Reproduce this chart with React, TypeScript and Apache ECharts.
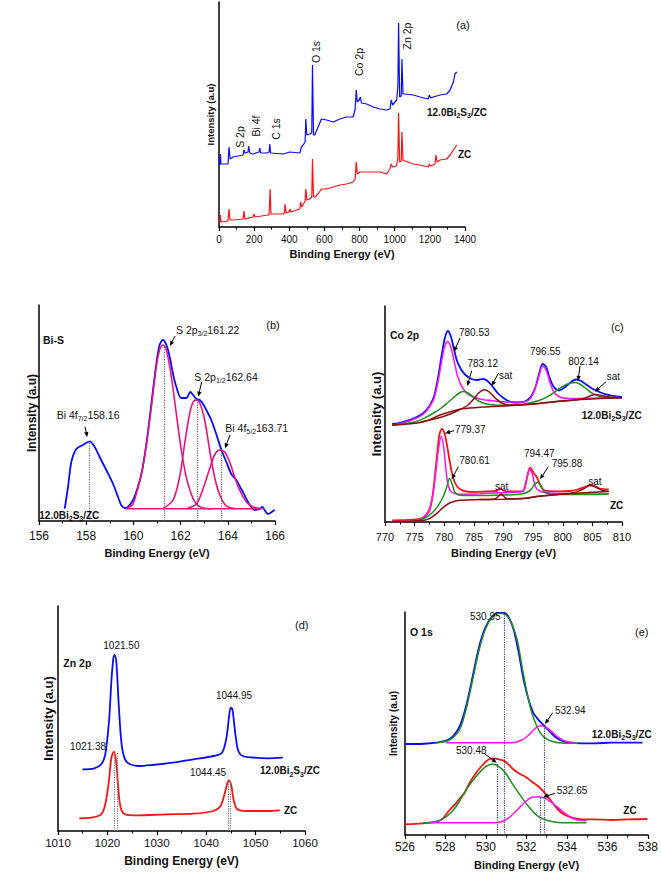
import React, { useEffect, useRef } from "react";
import * as echarts from "echarts";

const FONT = "'Liberation Sans', Arial, Helvetica, sans-serif";
const BLUE = "#0a0aff";
const RED = "#f51515";
const PINK_B = "#e6137e";
const MAG = "#ff14f0";
const GREEN = "#1f8f1f";
const MAROON = "#8b1010";

// ---------- (a) survey ----------
const aTicks = [0, 200, 400, 600, 800, 1000, 1200, 1400];
const aBlue = [
  [4, 62], [8, 73], [11, 63], [51, 63], [57, 80], [63, 68], [80, 70], [137, 72], [142, 77], [148, 74], [165, 75], [169, 81], [175, 74],
  [194, 73], [228, 75], [232, 79], [237, 74], [270, 74], [285, 75], [289, 83], [294, 74], [365, 73], [403, 75], [460, 74], [469, 80],
  [479, 82], [490, 85], [494, 108], [500, 92], [517, 93], [528, 94], [532, 162], [538, 92], [545, 92], [564, 100], [583, 108], [612, 107],
  [650, 105], [688, 108], [726, 110], [764, 110], [775, 118], [781, 137], [787, 125], [798, 127], [804, 130], [811, 124], [840, 123],
  [878, 120], [916, 118], [954, 117], [973, 118], [980, 127], [988, 122], [1011, 127], [1018, 140], [1022, 204], [1028, 130], [1037, 131],
  [1041, 168], [1047, 133], [1058, 133], [1106, 132], [1144, 130], [1191, 128], [1197, 132], [1205, 129], [1220, 130], [1258, 132],
  [1296, 133], [1315, 137], [1334, 145], [1343, 153], [1353, 155],
];
const aRed = [
  [4, 5], [8, 12], [11, 5], [51, 6], [57, 18], [63, 7], [80, 7], [137, 8], [142, 16], [148, 8], [194, 10], [199, 13], [205, 10],
  [279, 12], [285, 12], [291, 38], [296, 13], [365, 13], [372, 14], [376, 23], [382, 14], [399, 15], [405, 18], [410, 15], [460, 18],
  [465, 25], [471, 20], [490, 26], [494, 38], [500, 27], [517, 28], [528, 30], [532, 68], [538, 30], [545, 30], [564, 33], [583, 38],
  [612, 38], [650, 40], [688, 42], [726, 43], [764, 45], [775, 48], [781, 65], [787, 53], [802, 55], [840, 55], [878, 55], [916, 55],
  [954, 53], [973, 58], [980, 63], [988, 60], [1011, 61], [1018, 70], [1022, 114], [1028, 65], [1037, 66], [1041, 95], [1047, 67],
  [1058, 66], [1106, 63], [1144, 62], [1191, 60], [1197, 63], [1205, 61], [1229, 63], [1235, 72], [1241, 65], [1258, 67], [1296, 68],
  [1315, 72], [1334, 77], [1353, 82],
];

// ---------- (b) Bi-S ----------
const bTicks = [156, 158, 160, 162, 164, 166];
const bBlue = [
  [157.09, 12.3], [157.23, 34], [157.37, 59], [157.58, 72], [157.86, 76], [158.15, 79.7], [158.36, 74], [158.57, 64], [158.85, 51],
  [159.14, 37], [159.35, 24], [159.49, 15.7], [159.63, 13], [159.77, 14], [159.98, 20.7], [160.12, 29], [160.34, 47], [160.55, 77],
  [160.76, 117], [160.97, 157], [161.11, 176], [161.25, 181], [161.4, 176], [161.54, 164], [161.68, 147], [161.82, 134], [162.03, 123],
  [162.24, 123], [162.41, 129], [162.53, 126], [162.67, 122], [162.81, 121], [162.95, 117], [163.09, 111], [163.3, 101], [163.51, 87],
  [163.73, 71], [163.94, 59], [164.15, 47], [164.36, 41], [164.57, 32], [164.79, 22], [164.93, 16], [165.14, 11], [165.35, 12],
  [165.46, 14], [165.56, 11], [165.7, 7], [165.8, 8], [165.92, 10], [165.99, 11],
];
const bS32 = [
  [159.7, 12.3], [159.98, 17], [160.12, 27], [160.34, 47], [160.55, 76], [160.76, 114], [160.97, 154], [161.11, 171], [161.25, 176],
  [161.4, 171], [161.61, 144], [161.82, 107], [162.03, 71], [162.24, 44], [162.45, 27], [162.67, 17], [162.95, 13], [163.37, 12.3],
];
const bS12 = [
  [161.25, 12.3], [161.68, 21], [161.96, 44], [162.17, 77], [162.38, 107], [162.53, 119], [162.67, 121], [162.81, 118], [163.02, 101],
  [163.23, 71], [163.44, 44], [163.66, 26], [163.94, 15], [164.36, 12.3],
];
const bBi52 = [
  [162.24, 12.3], [162.67, 17], [162.95, 32], [163.23, 52], [163.44, 66], [163.66, 71], [163.87, 69], [164.08, 59], [164.29, 44],
  [164.5, 31], [164.79, 19], [165.07, 14], [165.42, 12.3],
];
const bBase = [[159.67, 12.3], [165.42, 12.3]];
const bDotX = [158.12, 161.29, 162.69, 163.72];
const bDotTop = [79, 176, 121, 71];

// ---------- (c) Co 2p ----------
const cTicks = [770, 775, 780, 785, 790, 795, 800, 805, 810];
const cBlue = [
  [771.2, 98], [773, 100], [775, 104], [776.5, 109], [777.5, 116], [778.3, 126], [779, 146], [779.6, 168], [780.1, 184], [780.6, 191],
  [781.1, 186], [781.6, 174], [782.1, 162], [782.8, 153], [783.6, 147], [784.6, 143], [785.6, 142], [786.6, 143], [787.3, 141],
  [788.1, 136], [789, 129], [790, 124], [791.2, 120], [792.5, 119.5], [793.8, 121], [794.7, 126], [795.4, 135], [796, 148], [796.6, 158],
  [797.2, 155], [797.8, 144], [798.5, 135], [799.4, 131.5], [800.5, 135.5], [801.4, 140], [802.2, 142.5], [803.1, 141], [803.9, 137.7],
  [805, 133.3], [806.2, 130], [807.3, 127.7], [809, 125.7], [810, 125],
];
const cPinkU = [
  [771.2, 96.7], [773, 99], [775, 103], [776.5, 108], [777.5, 115], [778.3, 124], [779, 142], [779.6, 162], [780.1, 176], [780.6, 180.5],
  [781.1, 175], [781.7, 160], [782.3, 145], [783.1, 134], [784.2, 127], [786, 123], [788.5, 121], [791, 120], [793, 120], [794.3, 122],
  [795.2, 131], [796, 146], [796.6, 156], [797.2, 152], [797.8, 140], [798.5, 130], [799.5, 125], [801, 123.5], [803, 123.5],
  [806, 124], [810, 124.5],
];
const cGreenU = [
  [771.2, 97], [775, 100], [777, 105], [778.5, 110], [779.5, 114], [780.5, 119], [781.5, 124], [782.4, 128.5], [783.2, 130.5],
  [784, 129], [784.9, 125], [785.8, 121], [786.8, 118.5], [788.5, 117], [791, 116.7], [793, 117.5], [794.4, 119], [796.1, 121.7],
  [797.8, 126.7], [799.4, 133.3], [800.6, 137.5], [801.4, 139], [802.2, 139.5], [803, 137.5], [803.8, 134], [805.1, 128.3],
  [806.7, 125], [810, 124.3],
];
const cSatU = [
  [776, 100], [779, 104], [781, 108], [782.5, 112], [784, 117], [785, 123], [785.8, 129], [786.8, 132.3], [787.6, 130], [788.6, 124],
  [789.7, 119], [791, 116.9], [793, 117], [796, 118.5], [799, 120.5], [802, 122], [803.8, 124], [804.8, 126.5], [805.6, 127.5],
  [806.5, 126.5], [808, 124.8], [810, 124.3],
];
const cBgU = [
  [771.2, 96.7], [776.4, 100], [779.2, 106.7], [780.9, 110], [783.1, 113.3], [786.5, 115], [792.1, 116.7], [796.6, 119], [801.1, 121.7],
  [805.6, 123.3], [810, 124.3],
];
const cRed = [
  [771.2, 1.7], [774.7, 2.3], [776.4, 4.3], [777.5, 11.7], [778, 25], [778.4, 45], [778.8, 68], [779.2, 88], [779.65, 93.4], [780.07, 88],
  [780.46, 77], [780.8, 65], [781.2, 52], [781.75, 40], [782.6, 33], [784.3, 30], [787, 30.5], [788.8, 31], [789.5, 33.4], [790.2, 30.7],
  [792, 30.5], [793.3, 31], [793.8, 40], [794.1, 48], [794.5, 54.4], [795.1, 49], [795.6, 45], [796.1, 38.4], [796.9, 31.7],
  [799.5, 30.7], [801.1, 31], [802.5, 32.5], [803.9, 35.5], [804.7, 37], [805.4, 36], [806.2, 33.5], [807.75, 32.5],
];
const cPinkL = [
  [771.2, 0.5], [774.7, 1.2], [776.4, 4], [777.5, 13.4], [778.1, 28.4], [778.55, 48.4], [779, 72], [779.5, 85.7], [779.9, 75],
  [780.24, 55], [780.6, 38.4], [781.2, 30], [783.2, 27.7], [786, 28.3], [788.8, 29], [791, 29.5], [793.3, 31], [794, 45], [794.4, 53.4],
  [794.9, 46.7], [795.4, 35], [796.1, 31], [797.5, 29.3], [800, 28.5], [804, 28], [807.75, 28],
];
const cGreenL = [
  [774.5, 1], [776.4, 3], [777.5, 7], [778.1, 10], [778.9, 15.7], [779.8, 25], [780.35, 33.4], [780.9, 43.4], [781.4, 36.7],
  [781.75, 30], [782.6, 26.7], [785, 26.5], [790, 27], [793, 28], [794.4, 31], [795, 35.5], [795.4, 38.4], [795.8, 40], [796.4, 35],
  [796.9, 30], [798.3, 27.7], [801, 27.5], [804, 27.5], [807.75, 28],
];
const cSatL = [
  [786, 22.4], [788.5, 23], [789.2, 26], [789.6, 28], [790, 26], [790.6, 23.2], [793, 23.4], [796, 25.7], [799.5, 27.7], [802, 29.5],
  [803.5, 33], [804.6, 36.5], [805.5, 35], [806.5, 32], [807.75, 30.5],
];
const cBgL = [
  [771.2, 0.3], [776.4, 1.5], [777.5, 3.4], [778.7, 8.4], [779.8, 14.4], [780.9, 19], [782.6, 21.7], [786, 22.4], [790, 22.8],
  [793.3, 23.4], [796.1, 25.7], [799.5, 27.7], [803, 29], [807.75, 30.5],
];

// ---------- (d) Zn 2p ----------
const dTicks = [1010, 1020, 1030, 1040, 1050, 1060];
const dBlue = [
  [1014.95, 61.7], [1017.36, 62.7], [1018.74, 66.7], [1019.57, 76.7], [1020.33, 110], [1020.81, 150], [1021.22, 173.3], [1021.5, 176],
  [1021.84, 166.7], [1022.33, 123.3], [1022.88, 86.7], [1023.57, 71.7], [1024.6, 66.7], [1026.33, 65], [1029.1, 66], [1033.2, 68.3],
  [1037.4, 71.7], [1041.5, 75], [1043.2, 78.3], [1044.1, 93.3], [1044.6, 113.3], [1044.95, 123.3], [1045.3, 121.7], [1045.6, 110],
  [1046, 93.3], [1046.5, 80], [1047.4, 75], [1049.8, 73.3], [1052.5, 72.7], [1055.5, 73.3],
];
const dRed = [
  [1014.3, 12.7], [1016.7, 13.3], [1018.74, 16.7], [1019.57, 26.7], [1020.3, 50], [1020.8, 73], [1021.3, 79.3], [1021.8, 68],
  [1022.2, 43], [1022.7, 23], [1023.6, 16.7], [1026.3, 15.7], [1031.8, 16.7], [1037.4, 17.3], [1041.5, 20], [1042.9, 25],
  [1043.7, 36.7], [1044.3, 48.3], [1044.6, 50.7], [1045.1, 45], [1045.6, 30], [1046.3, 21.7], [1048.4, 20], [1052.5, 20], [1054.9, 20.7],
];
const dDotX = [1021.35, 1021.9, 1044.5, 1044.85];
const dDotTop = [79, 79, 50, 50];

// ---------- (e) O 1s ----------
const eTicks = [526, 528, 530, 532, 534, 536, 538];
const eBlue = [
  [526, 91], [526.57, 91], [527.22, 91.7], [527.55, 92.3], [528.04, 94.3], [528.36, 98.3], [528.69, 108.3], [529.01, 128.3],
  [529.34, 158.3], [529.66, 188.3], [529.99, 208.3], [530.32, 219], [530.64, 222], [530.89, 222], [531.13, 217.5], [531.37, 205],
  [531.62, 181.7], [531.86, 155], [532.11, 135], [532.35, 121.7], [532.6, 115], [532.84, 110], [533.08, 105], [533.41, 98.3],
  [533.74, 94.3], [534.06, 92.3], [534.71, 91.7], [535.36, 91.7], [536.18, 92.3], [536.99, 92.3], [537.73, 92.3],
];
const eGreenU = [
  [527.55, 92.3], [528.2, 95], [528.69, 105], [529.01, 125], [529.34, 155], [529.66, 185], [529.99, 206.7], [530.32, 218.3],
  [530.64, 221.7], [530.89, 221.3], [531.21, 214], [531.54, 195], [531.78, 168.3], [532.03, 141.7], [532.27, 121.7], [532.52, 108.3],
  [532.76, 100], [533.08, 95], [533.57, 92.3], [534.55, 91.7],
];
const eMagU = [
  [528.04, 92.3], [531.29, 92.3], [531.78, 95], [532.11, 100], [532.43, 106.7], [532.68, 109.3], [532.92, 108.3], [533.25, 103.3],
  [533.57, 97.7], [533.9, 94], [534.39, 92.3],
];
const eRed = [
  [526, 10.7], [526.9, 11.7], [527.55, 13.3], [527.87, 16.7], [528.2, 25], [528.52, 31.7], [528.77, 38.3], [528.93, 41.7],
  [529.18, 51.7], [529.5, 61.7], [529.83, 70], [530.15, 75.7], [530.4, 76.7], [530.64, 75.7], [530.97, 73.3], [531.29, 66.7],
  [531.62, 61.7], [531.94, 58.3], [532.27, 53.3], [532.6, 48.3], [532.92, 41.7], [533.25, 33.3], [533.57, 25], [533.9, 20],
  [534.39, 16.7], [534.88, 15.7], [535.36, 15.7], [536.18, 15], [536.99, 15.7], [537.97, 16],
];
const eGreenL = [
  [526.9, 12.3], [527.55, 13.3], [528.04, 18.3], [528.52, 28.3], [529.01, 45], [529.5, 58.3], [529.99, 68.3], [530.32, 71],
  [530.64, 68.3], [530.97, 61.7], [531.29, 51.7], [531.62, 41.7], [532.11, 28.3], [532.6, 18.3], [533.08, 14.3], [533.74, 12.3],
  [534.96, 12.3],
];
const eMagL = [
  [527.22, 12.3], [530.48, 12.3], [530.97, 15], [531.46, 23.3], [531.94, 33.3], [532.27, 37.7], [532.6, 38.3], [532.92, 36.7],
  [533.41, 30], [533.9, 21.7], [534.39, 15.7], [534.96, 14.3],
];
const eDotX = [530.55, 530.92, 532.68, 532.88];
const eDotTop = [71, 222, 38, 109];

// ---------- layout ----------
const GRIDS = [
  { left: 219, top: 2, width: 246, height: 225 },
  { left: 39, top: 305, width: 236, height: 216 },
  { left: 385, top: 306, width: 237, height: 216 },
  { left: 58, top: 606, width: 247, height: 225 },
  { left: 405, top: 612, width: 246, height: 223 },
];
const YMAX = [225, 216, 216, 225, 223];

function xAx(i, ticks, labelSize, labelMargin, nameSize, nameGap) {
  return {
    gridIndex: i, type: "value",
    min: ticks[0], max: ticks[ticks.length - 1], interval: ticks[1] - ticks[0],
    axisLine: { show: true, onZero: false, lineStyle: { color: "#000", width: 1.5 } },
    axisTick: { show: true, inside: false, length: 4, lineStyle: { color: "#000", width: 1.2 } },
    minorTick: { show: true, splitNumber: 2, length: 2.5, lineStyle: { color: "#000", width: 1 } },
    axisLabel: { color: "#111", fontSize: labelSize, fontFamily: FONT, margin: labelMargin, formatter: (v) => String(v) },
    splitLine: { show: false },
    name: "Binding Energy (eV)", nameLocation: "middle", nameGap,
    nameTextStyle: { color: "#111", fontWeight: "bold", fontSize: nameSize, fontFamily: FONT },
  };
}
function yAx(i, nameSize, nameGap) {
  return {
    gridIndex: i, type: "value", min: 0, max: YMAX[i],
    axisLine: { show: true, onZero: false, lineStyle: { color: "#000", width: 1.5 } },
    axisTick: { show: false }, axisLabel: { show: false }, splitLine: { show: false },
    name: "Intensity (a.u)", nameLocation: "middle", nameGap, nameRotate: 90,
    nameTextStyle: { color: "#111", fontWeight: "bold", fontSize: nameSize, fontFamily: FONT },
  };
}
function ln(i, data, color, width, smooth, extra = {}) {
  return {
    type: "line", xAxisIndex: i, yAxisIndex: i, data, symbol: "none", showSymbol: false,
    smooth, lineStyle: { color, width }, itemStyle: { color }, silent: true, ...extra,
  };
}
function dots(xs, tops, color) {
  return {
    silent: true, symbol: ["none", "none"], label: { show: false },
    lineStyle: { type: "dotted", color, width: 1.2 },
    data: xs.map((x, k) => [{ coord: [x, 0] }, { coord: [x, tops[k]] }]),
  };
}

function rich(size, bold) {
  return {
    s: { fontSize: Math.round(size * 0.68), fontFamily: FONT, fontWeight: bold ? "bold" : "normal", fill: "#111", verticalAlign: "bottom", lineHeight: 8 },
  };
}
function txt(x, y, text, o: any = {}) {
  const size = o.size || 10.5;
  const align = o.align || "left";
  return {
    type: "text", x, y, rotation: o.rot || 0, silent: true, z: 100,
    style: {
      text, fill: "#111", fontSize: size, fontFamily: FONT, fontWeight: o.bold ? "bold" : "normal",
      align, verticalAlign: "middle", textAlign: align, textVerticalAlign: "middle", lineHeight: 14,
      rich: rich(size, o.bold),
    },
  };
}
function arrow(x1, y1, x2, y2) {
  const a = Math.atan2(y2 - y1, x2 - x1);
  const L = 5, W = 2.2;
  const bx = x2 - L * Math.cos(a), by = y2 - L * Math.sin(a);
  const px = -Math.sin(a) * W, py = Math.cos(a) * W;
  return [
    { type: "line", silent: true, z: 100, shape: { x1, y1, x2: bx, y2: by }, style: { stroke: "#000", lineWidth: 1 } },
    { type: "polygon", silent: true, z: 100, shape: { points: [[x2, y2], [bx + px, by + py], [bx - px, by - py]] }, style: { fill: "#000" } },
  ];
}

const SAMPLE = "12.0Bi{s|2}S{s|3}/ZC";

function buildOption() {
  const graphic: any[] = [
    // (a)
    txt(463, 25, "(a)", { size: 11, align: "center" }),
    txt(427, 112, SAMPLE, { size: 10, bold: true }),
    txt(458, 154, "ZC", { size: 10, bold: true }),
    txt(239.7, 137, "S 2p", { size: 10.5, align: "center", rot: Math.PI / 2 }),
    txt(256.3, 126, "Bi 4f", { size: 10.5, align: "center", rot: Math.PI / 2 }),
    txt(275.7, 129, "C 1s", { size: 10.5, align: "center", rot: Math.PI / 2 }),
    txt(316, 52, "O 1s", { size: 10.5, align: "center", rot: Math.PI / 2 }),
    txt(358.7, 62, "Co 2p", { size: 10.5, align: "center", rot: Math.PI / 2 }),
    txt(406.7, 36, "Zn 2p", { size: 10.5, align: "center", rot: Math.PI / 2 }),
    // (b)
    txt(273, 325, "(b)", { size: 11, align: "center" }),
    txt(43, 340, "Bi-S", { size: 10.5, bold: true }),
    txt(56.7, 415, "Bi 4f{s|7/2}158.16", { size: 10.5 }),
    ...arrow(85, 426.7, 87.3, 437),
    txt(176, 330, "S 2p{s|3/2}161.22", { size: 10.5 }),
    ...arrow(175, 336, 170, 346),
    txt(194.3, 376.7, "S 2p{s|1/2}162.64", { size: 10.5 }),
    ...arrow(201.7, 381.7, 198.3, 396.7),
    txt(225.3, 428.3, "Bi 4f{s|5/2}163.71", { size: 10.5 }),
    ...arrow(230, 435, 225, 448.3),
    txt(39.3, 515, SAMPLE, { size: 10, bold: true }),
    // (c)
    txt(617.3, 327, "(c)", { size: 11, align: "center" }),
    txt(390, 335, "Co 2p", { size: 10.5, bold: true }),
    txt(459, 332, "780.53", { size: 10 }),
    ...arrow(460, 338, 454, 351.7),
    txt(467.5, 363, "783.12", { size: 10 }),
    ...arrow(471.7, 370.7, 467.3, 386),
    txt(499, 375, "sat", { size: 10 }),
    ...arrow(498.3, 373.3, 491.7, 386),
    txt(530, 351.7, "796.55", { size: 10 }),
    txt(568.3, 361.7, "802.14", { size: 10 }),
    ...arrow(580, 366, 578, 381),
    txt(606.7, 376.7, "sat", { size: 10 }),
    ...arrow(606, 381.7, 595, 391.7),
    txt(581.7, 415, SAMPLE, { size: 10, bold: true }),
    txt(455, 429.3, "779.37", { size: 10 }),
    ...arrow(454, 430.7, 445, 433.3),
    txt(459.3, 460.7, "780.61", { size: 10 }),
    ...arrow(458.3, 466.7, 451.7, 479.3),
    txt(495, 486, "sat", { size: 10 }),
    txt(524, 453.3, "794.47", { size: 10 }),
    txt(551.7, 463.3, "795.88", { size: 10 }),
    ...arrow(548.3, 466.7, 540, 479.3),
    txt(588.3, 481.7, "sat", { size: 10 }),
    txt(610, 505, "ZC", { size: 10, bold: true }),
    // (d)
    txt(301.7, 625, "(d)", { size: 11, align: "center" }),
    txt(63.3, 663.3, "Zn 2p", { size: 10.5, bold: true }),
    txt(103.3, 645, "1021.50", { size: 10 }),
    txt(216, 695, "1044.95", { size: 10 }),
    txt(70, 746, "1021.38", { size: 10 }),
    txt(190, 772.7, "1044.45", { size: 10 }),
    txt(260, 770.7, SAMPLE, { size: 10, bold: true }),
    txt(284, 810, "ZC", { size: 10, bold: true }),
    // (e)
    txt(641.7, 631.7, "(e)", { size: 11, align: "center" }),
    txt(410, 631.7, "O 1s", { size: 10.5, bold: true }),
    txt(470, 616, "530.95", { size: 10 }),
    txt(555, 710, "532.94", { size: 10 }),
    ...arrow(552.7, 712.7, 545, 724),
    txt(591.7, 734.3, SAMPLE, { size: 10, bold: true }),
    txt(456, 750.7, "530.48", { size: 10 }),
    ...arrow(484, 753.3, 496.7, 762.7),
    txt(556.7, 790.7, "532.65", { size: 10 }),
    ...arrow(555, 793.3, 543.3, 797.3),
    txt(623.3, 810, "ZC", { size: 10, bold: true }),
  ];

  return {
    animation: false,
    backgroundColor: "#ffffff",
    grid: GRIDS.map((g) => ({ ...g, containLabel: false })),
    xAxis: [
      xAx(0, aTicks, 10, 7, 11, 21),
      xAx(1, bTicks, 12, 9, 11, 26),
      xAx(2, cTicks, 11, 9, 11, 25),
      xAx(3, dTicks, 11.5, 6, 12, 24),
      xAx(4, eTicks, 12, 6, 11, 24),
    ],
    yAxis: [yAx(0, 9.5, 4), yAx(1, 12, 1), yAx(2, 13, 2), yAx(3, 13, 3), yAx(4, 10, 7)],
    graphic,
    series: [
      ln(0, aBlue, BLUE, 1.2, false),
      ln(0, aRed, RED, 1.2, false),

      ln(1, bBlue, BLUE, 1.8, 0.3, { markLine: dots(bDotX, bDotTop, "#666") }),
      ln(1, bBase, PINK_B, 1.6, false),
      ln(1, bS32, PINK_B, 1.6, 0.3),
      ln(1, bS12, PINK_B, 1.6, 0.3),
      ln(1, bBi52, PINK_B, 1.6, 0.3),

      ln(2, cBlue, BLUE, 1.8, 0.3),
      ln(2, cPinkU, MAG, 1.5, 0.3),
      ln(2, cGreenU, GREEN, 1.5, 0.3),
      ln(2, cSatU, MAROON, 1.5, 0.3),
      ln(2, cBgU, MAROON, 1.5, 0.3),
      ln(2, cRed, RED, 1.8, 0.3),
      ln(2, cPinkL, MAG, 1.5, 0.3),
      ln(2, cGreenL, GREEN, 1.5, 0.3),
      ln(2, cSatL, MAROON, 1.5, 0.3),
      ln(2, cBgL, MAROON, 1.5, 0.3),

      ln(3, dBlue, BLUE, 1.8, 0.3, { markLine: dots(dDotX, dDotTop, "#777") }),
      ln(3, dRed, RED, 1.8, 0.3),

      ln(4, eBlue, BLUE, 1.8, 0.3, { markLine: dots(eDotX, eDotTop, "#3a3a6a") }),
      ln(4, eGreenU, GREEN, 1.5, 0.3),
      ln(4, eMagU, MAG, 1.5, 0.3),
      ln(4, eRed, RED, 1.8, 0.3),
      ln(4, eGreenL, GREEN, 1.5, 0.3),
      ln(4, eMagL, MAG, 1.5, 0.3),
    ],
  };
}

export default function App() {
  const ref = useRef<HTMLDivElement>(null);
  useEffect(() => {
    if (!ref.current) return;
    const chart = echarts.init(ref.current, undefined, { renderer: "svg" });
    chart.setOption(buildOption() as any);
    return () => chart.dispose();
  }, []);
  return (
    <div
      ref={ref}
      style={{ position: "fixed", left: 0, top: 0, width: 661, height: 872, background: "#fff" }}
    />
  );
}
